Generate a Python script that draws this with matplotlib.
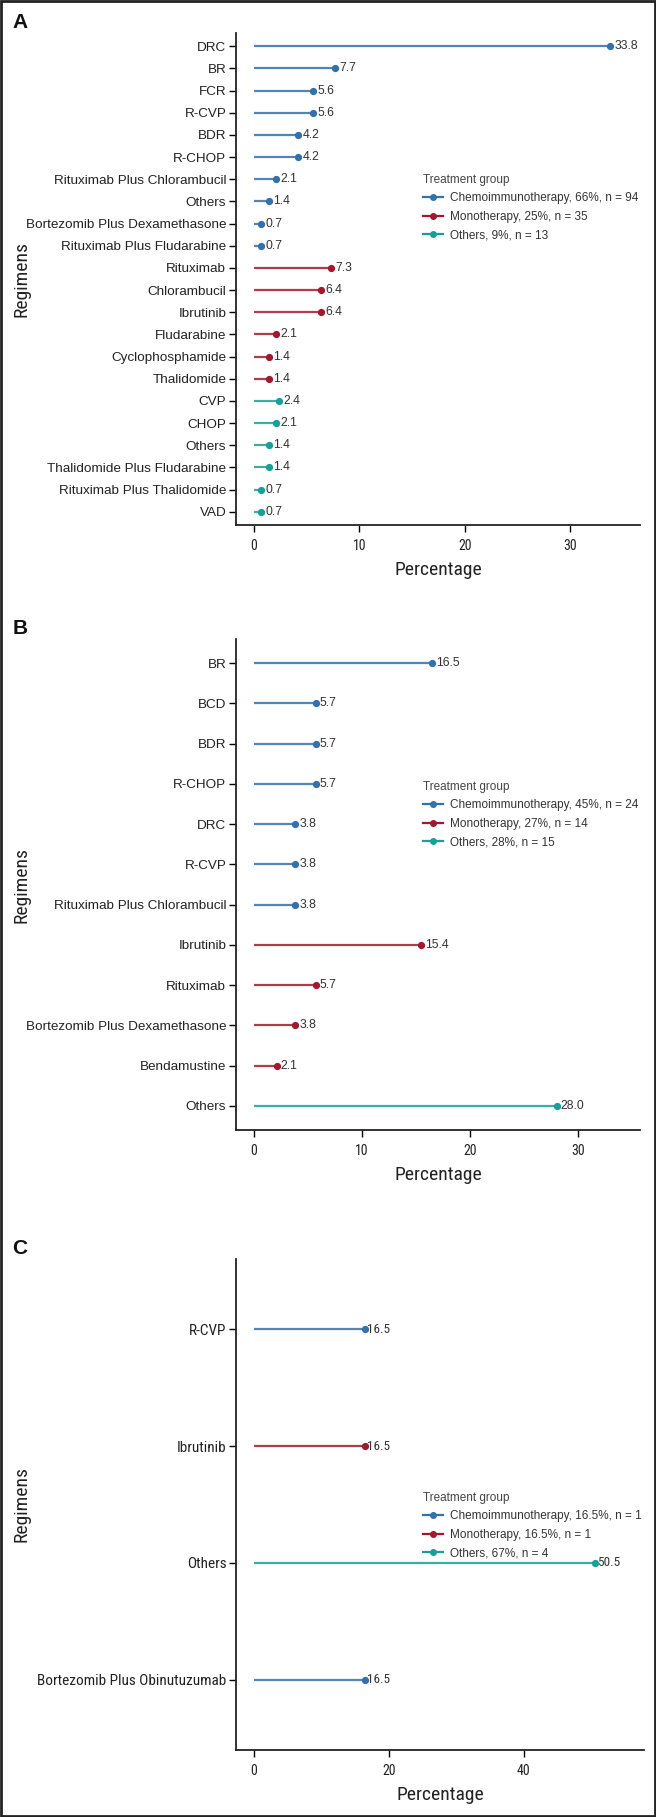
import matplotlib
matplotlib.use("Agg")
import matplotlib.pyplot as plt
from matplotlib import font_manager as fm
from matplotlib.lines import Line2D
from matplotlib.patches import Rectangle

# --- data -------------------------------------------------------------
a_regimens = ["DRC", "BR", "FCR", "R-CVP", "BDR", "R-CHOP",
              "Rituximab Plus Chlorambucil", "Others",
              "Bortezomib Plus Dexamethasone", "Rituximab Plus Fludarabine",
              "Rituximab", "Chlorambucil", "Ibrutinib", "Fludarabine",
              "Cyclophosphamide", "Thalidomide",
              "CVP", "CHOP", "Others", "Thalidomide Plus Fludarabine",
              "Rituximab Plus Thalidomide", "VAD"]
a_values = [33.8, 7.7, 5.6, 5.6, 4.2, 4.2, 2.1, 1.4, 0.7, 0.7,
            7.3, 6.4, 6.4, 2.1, 1.4, 1.4,
            2.4, 2.1, 1.4, 1.4, 0.7, 0.7]
a_groups = [0] * 10 + [1] * 6 + [2] * 6
a_legend = ["Chemoimmunotherapy, 66%, n = 94", "Monotherapy, 25%, n = 35",
            "Others, 9%, n = 13"]

b_regimens = ["BR", "BCD", "BDR", "R-CHOP", "DRC", "R-CVP",
              "Rituximab Plus Chlorambucil", "Ibrutinib", "Rituximab",
              "Bortezomib Plus Dexamethasone", "Bendamustine", "Others"]
b_values = [16.5, 5.7, 5.7, 5.7, 3.8, 3.8, 3.8, 15.4, 5.7, 3.8, 2.1, 28.0]
b_groups = [0] * 7 + [1] * 4 + [2]
b_legend = ["Chemoimmunotherapy, 45%, n = 24", "Monotherapy, 27%, n = 14",
            "Others, 28%, n = 15"]

c_regimens = ["R-CVP", "Ibrutinib", "Others", "Bortezomib Plus Obinutuzumab"]
c_values = [16.5, 16.5, 50.5, 16.5]
c_groups = [0, 1, 2, 0]
c_legend = ["Chemoimmunotherapy, 16.5%, n = 1", "Monotherapy, 16.5%, n = 1",
            "Others, 67%, n = 4"]

colors = ["#3470aa", "#a3182e", "#17a096"]


# find a condensed regular face for the axis titles / tick numbers, if any
def find_narrow():
    found = []
    for f in fm.fontManager.ttflist:
        name = (f.name + " " + f.fname).lower()
        if f.style != "normal" or "italic" in name or "oblique" in name:
            continue
        if "condensed" in name or "narrow" in name or f.stretch in ("condensed", "semi-condensed"):
            found.append(f)

    def score(f):
        name = (f.name + " " + f.fname).lower()
        s = abs((f.weight if isinstance(f.weight, int) else 400) - 400)
        for bad in ["bold", "black", "medium", "semi", "light", "thin", "extra", "heavy"]:
            if bad in f.fname.lower().split("/")[-1]:
                s += 500
        if "roboto" in name:
            s -= 50
        return s

    if found:
        best = min(found, key=score)
        return fm.FontProperties(fname=best.fname), True
    return fm.FontProperties(family="Roboto"), False


NARROW, HAS_NARROW = find_narrow()
REG = "Liberation Sans"

W, H = 656, 1817
fig = plt.figure(figsize=(W / 100, H / 100), dpi=100)


def fx(x):
    return x / W


def fy(y):
    return 1 - y / H


def nfont(size):
    p = NARROW.copy()
    p.set_size(size)
    return p


def panel(letter, top, bottom, right, regimens, values, groups, legend_labels,
          xlim, xticks, leg_xy, narrow_labels):
    ax = fig.add_axes([fx(236), fy(bottom), fx(right) - fx(236),
                       (bottom - top) / H])
    n = len(regimens)
    for i, (v, g) in enumerate(zip(values, groups)):
        ax.plot([0, v], [i, i], color=colors[g], lw=1.6, alpha=0.85,
                solid_capstyle="butt", zorder=2)
        ax.plot(v, i, "o", color=colors[g], ms=4.2, zorder=3)
        if narrow_labels:
            ax.annotate(f"{v:.1f}", (v, i), xytext=(1.5, 0),
                        textcoords="offset points", va="center", ha="left",
                        fontproperties=nfont(9.5 if HAS_NARROW else 8.5),
                        color="#333333")
        else:
            ax.annotate(f"{v:.1f}", (v, i), xytext=(3, 0),
                        textcoords="offset points", va="center", ha="left",
                        fontsize=8.8, family=REG, color="#333333")
    ax.set_ylim(n - 1 + 0.6, -0.6)
    ax.set_xlim(*xlim)
    ax.set_yticks(range(n))
    if narrow_labels and HAS_NARROW:
        ax.set_yticklabels(regimens, fontproperties=nfont(11), color="#222222")
    else:
        ax.set_yticklabels(regimens, family=REG, fontsize=9.7, color="#222222")
    ax.set_xticks(xticks)
    ax.set_xticklabels([str(t) for t in xticks],
                       fontproperties=nfont(10 if HAS_NARROW else 8.5),
                       color="#222222")
    ax.tick_params(axis="y", length=5, width=1, pad=2)
    ax.tick_params(axis="x", length=5, width=1, pad=5)
    for s in ["top", "right"]:
        ax.spines[s].set_visible(False)
    for s in ["left", "bottom"]:
        ax.spines[s].set_linewidth(1.3)
        ax.spines[s].set_color("#222222")
    ax.text(0.5, -45 / (bottom - top), "Percentage", transform=ax.transAxes,
            ha="center", va="center", fontproperties=nfont(14 if HAS_NARROW else 12),
            color="#222222")
    fig.text(fx(21), fy((top + bottom) / 2), "Regimens", rotation=90,
             ha="center", va="center", fontproperties=nfont(14 if HAS_NARROW else 12),
             color="#222222")
    fig.text(fx(20), fy(top - 10), letter, ha="center", va="center",
             family=REG, fontsize=15, fontweight="bold", color="#111111")
    handles = [Line2D([], [], color=c, lw=1.6, marker="o", ms=4)
               for c in colors]
    leg = ax.legend(handles, legend_labels, title="Treatment group",
                    loc="upper left", bbox_to_anchor=(fx(leg_xy[0]), fy(leg_xy[1])),
                    bbox_transform=fig.transFigure, frameon=False,
                    prop={"family": REG, "size": 8.5},
                    title_fontproperties={"family": REG, "size": 8.5},
                    handlelength=1.7, handletextpad=0.6, labelspacing=0.55,
                    borderpad=0, borderaxespad=0, alignment="left")
    leg.get_title().set_color("#444444")
    for t in leg.get_texts():
        t.set_color("#333333")
    return ax


panel("A", 33, 525, 640, a_regimens, a_values, a_groups, a_legend,
      (-1.7, 36.6), [0, 10, 20, 30], (423, 174), False)
panel("B", 639, 1130, 640, b_regimens, b_values, b_groups, b_legend,
      (-1.67, 35.7), [0, 10, 20, 30], (423, 781), False)
panel("C", 1259, 1750, 644, c_regimens, c_values, c_groups, c_legend,
      (-2.67, 57.8), [0, 20, 40], (423, 1492), True)

fig.patches.append(Rectangle((0.001, 0.0005), 0.997, 0.999,
                             transform=fig.transFigure, fill=False,
                             edgecolor="#222222", lw=2))

fig.savefig("out.png", dpi=100)
